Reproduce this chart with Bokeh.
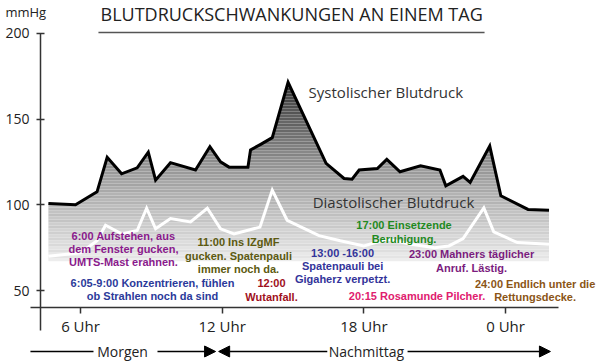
import numpy as np
from bokeh.plotting import figure
from bokeh.models import LinearAxis, FixedTicker, Range1d, Arrow, NormalHead, ColumnDataSource
from bokeh.core.properties import value
from bokeh.embed import file_html
from bokeh.resources import INLINE

# ---- data (hour of day, values > 24 are after midnight; mmHg) ----
sys_hours = [4.64, 5.79, 6.70, 7.13, 7.74, 8.40, 8.87, 9.18, 9.81, 10.87,
             11.48, 11.93, 12.29, 13.09, 13.20, 13.63, 14.12, 14.79,
             16.40, 17.16, 17.50, 17.80, 18.57, 18.97, 19.53, 20.40, 21.22, 21.47,
             22.20, 22.50, 23.33, 23.80, 24.95, 25.84]
sys_vals = [100.8, 100.0, 107.6, 127.7, 118.1, 121.6, 130.7, 114.4, 124.6, 120.3,
            133.9, 125.1, 122.0, 122.0, 132.0, 135.3, 139.2, 171.5,
            124.2, 115.4, 115.0, 120.3, 121.2, 126.5, 119.3, 122.8, 120.3, 111.1,
            116.6, 113.1, 134.3, 105.3, 97.3, 96.9]

dia_hours = [4.64, 6.0, 6.7, 7.06, 7.76, 8.4, 8.8, 9.18, 9.81, 10.66,
             11.37, 11.93, 12.5, 13.6, 14.12, 14.75, 16.1, 17.0, 18.0, 19.0,
             20.0, 21.0, 21.6, 22.2, 23.08, 23.5, 24.5, 25.84]
dia_vals = [70, 72, 79, 88.1, 83, 85, 98, 86, 92, 90,
            98, 86, 83, 87, 108.6, 91, 82, 79, 76, 80,
            77, 75, 76, 80.3, 98.2, 84.2, 78, 77]

x_ticks = [6, 12, 18, 24]
x_tick_labels = ["6 Uhr", "12 Uhr", "18 Uhr", "0 Uhr"]
y_ticks = [50, 100, 150, 200]

title_text = "BLUTDRUCKSCHWANKUNGEN AN EINEM TAG"
unit_text = "mmHg"
series_names = ["Systolischer Blutdruck", "Diastolischer Blutdruck"]
periods = ["Morgen", "Nachmittag"]

ann_texts = [
    "6:00 Aufstehen, aus\ndem Fenster gucken,\nUMTS-Mast erahnen.",
    "6:05-9:00 Konzentrieren, fühlen\nob Strahlen noch da sind",
    "11:00 Ins IZgMF\ngucken. Spatenpauli\nimmer noch da.",
    "12:00\nWutanfall.",
    "13:00 -16:00\nSpatenpauli bei\nGigaherz verpetzt.",
    "17:00 Einsetzende\nBeruhigung.",
    "20:15 Rosamunde Pilcher.",
    "23:00 Mahners täglicher\nAnruf. Lästig.",
    "24:00 Endlich unter die\nRettungsdecke.",
]
ann_x = [7.82, 9.05, 12.69, 14.09, 17.10, 19.70, 20.25, 22.56, 25.25]
ann_y = [74.2, 50.7, 70.4, 50.3, 64.3, 84.1, 46.5, 67.3, 50.0]
ann_colors = ["#8a1a8c", "#2b3a9a", "#5c5a10", "#a0101c", "#33349a",
              "#1f8a1f", "#e0206e", "#7b1c7e", "#8b5516"]

# ---- figure ----
p = figure(width=600, height=364, output_backend="svg", toolbar_location=None,
           x_range=Range1d(2.612, 28.02), y_range=Range1d(6.81, 219.26),
           x_axis_location=None, y_axis_location=None, min_border=0)
p.outline_line_color = None
p.grid.grid_line_color = None
p.background_fill_color = "white"

# gradient fill under the systolic curve (horizontal bands, then white above the curve)
h0, h1 = sys_hours[0], sys_hours[-1]
top = max(sys_vals) + 2
band_edges = np.arange(67.0, top + 1.75, 1.75)
stops_v = [67, 85, 102, 120, 137, 155, 172]
stops_g = [234, 207, 181, 153, 119, 85, 51]
b_bot, b_top, b_col = [], [], []
for i in range(len(band_edges) - 1):
    lo, hi = band_edges[i], band_edges[i + 1]
    g = np.interp((lo + hi) / 2, stops_v, stops_g) + (5 if i % 2 == 0 else -2)
    g = int(max(0, min(255, g)))
    b_bot.append(lo)
    b_top.append(hi)
    b_col.append("#%02x%02x%02x" % (g, g, g))
p.quad(left=h0, right=h1, bottom=b_bot, top=b_top, fill_color=b_col, line_color=None)
pad = 0.3
p.patch(x=[h0 - pad, h0 - pad] + sys_hours + [h1 + pad, h1 + pad],
        y=[top + 1, sys_vals[0]] + sys_vals + [sys_vals[-1], top + 1],
        fill_color="white", line_color=None)

# curves
p.line(dia_hours, dia_vals, line_color="white", line_width=3, line_join="miter")
p.line(sys_hours, sys_vals, line_color="black", line_width=3, line_join="miter")

# axes
yaxis = LinearAxis(fixed_location=4.31, bounds=(26.6, 200), ticker=FixedTicker(ticks=y_ticks))
yaxis.axis_line_width = 1.5
yaxis.axis_line_color = "#333333"
yaxis.major_tick_in = 4
yaxis.major_tick_out = 4
yaxis.major_tick_line_width = 1.5
yaxis.major_tick_line_color = "#333333"
yaxis.minor_tick_line_color = None
yaxis.major_label_text_font = "Open Sans"
yaxis.major_label_text_font_size = "14px"
yaxis.major_label_text_color = "#222222"
yaxis.major_label_standoff = 7
p.add_layout(yaxis, "left")

xaxis = LinearAxis(fixed_location=40, bounds=(3.88, 26.25), ticker=FixedTicker(ticks=x_ticks),
                   major_label_overrides={t: l for t, l in zip(x_ticks, x_tick_labels)})
xaxis.axis_line_width = 1.5
xaxis.axis_line_color = "#333333"
xaxis.major_tick_in = 0
xaxis.major_tick_out = 6
xaxis.major_tick_line_width = 1.5
xaxis.major_tick_line_color = "#333333"
xaxis.minor_tick_line_color = None
xaxis.major_label_text_font = "Open Sans"
xaxis.major_label_text_font_size = "15px"
xaxis.major_label_text_color = "#222222"
xaxis.major_label_standoff = 2
p.add_layout(xaxis, "below")

# title and unit
p.text(x=[14.94], y=[211.4], text=[title_text], text_font=value("Open Sans"),
       text_font_size="18px", text_color="#222222", text_align="center", text_baseline="middle")
p.line([6.76, 23.11], [200.6, 200.6], line_color="#555555", line_width=1.5)
p.text(x=[2.82], y=[212.3], text=[unit_text], text_font=value("Open Sans"),
       text_font_size="13px", text_color="#222222", text_align="left", text_baseline="middle")

# series labels
p.text(x=[15.66, 15.83], y=[165.6, 101.9], text=series_names, text_font=value("Open Sans"),
       text_font_size="15px", text_color="#333333", text_align="left", text_baseline="middle")

# annotations
src = ColumnDataSource(dict(x=ann_x, y=ann_y, text=ann_texts, color=ann_colors))
p.text(x="x", y="y", text="text", text_color="color", source=src,
       text_font=value("Liberation Sans"), text_font_style="bold", text_font_size="11px",
       text_align="center", text_baseline="middle", text_line_height=1.12)

# period row
yb = 14.4
p.text(x=[7.78, 18.11], y=[yb, yb], text=periods, text_font=value("Open Sans"),
       text_font_size="14px", text_color="#222222", text_align="center", text_baseline="middle")
p.segment(x0=[3.88], y0=[yb], x1=[6.55], y1=[yb], line_color="black", line_width=1.5)
for xs, xe in [(9.26, 11.72), (16.45, 11.85), (19.85, 25.9)]:
    p.add_layout(Arrow(end=NormalHead(size=11, fill_color="black", line_color="black"),
                       x_start=xs, y_start=yb, x_end=xe, y_end=yb,
                       line_color="black", line_width=1.5))

open("out.html", "w").write(file_html(p, INLINE))
